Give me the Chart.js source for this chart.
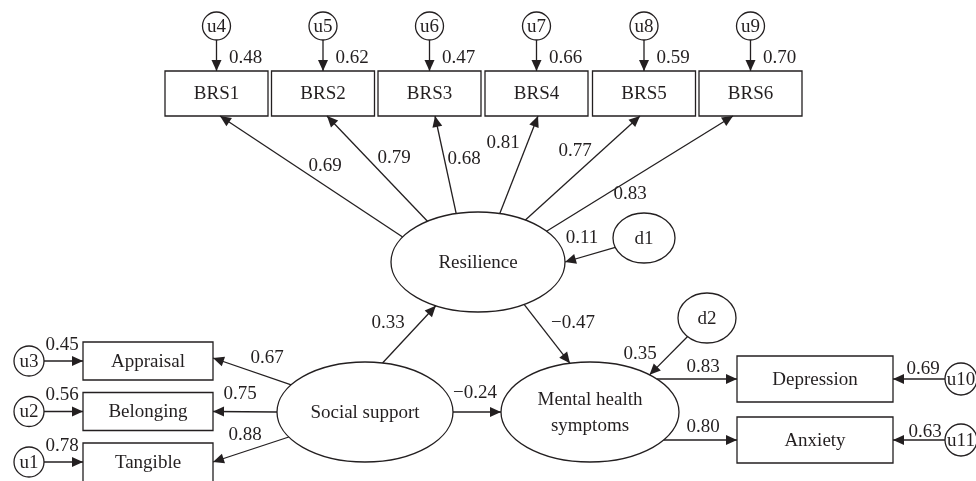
<!DOCTYPE html>
<html>
<head>
<meta charset="utf-8">
<title>Path model</title>
<script src="https://cdn.jsdelivr.net/npm/chart.js@4.4.0/dist/chart.umd.min.js"></script>
<style>
  html, body { margin: 0; padding: 0; background: #fff; }
  #wrap { width: 976px; height: 481px; }
</style>
</head>
<body>
<div id="wrap"><canvas id="c" width="976" height="481"></canvas></div>
<script>
// === Model values ===
const brsItems = ['BRS1', 'BRS2', 'BRS3', 'BRS4', 'BRS5', 'BRS6'];
const brsLoadings = [0.69, 0.79, 0.68, 0.81, 0.77, 0.83];
const brsErrors = ['u4', 'u5', 'u6', 'u7', 'u8', 'u9'];
const brsErrorVar = [0.48, 0.62, 0.47, 0.66, 0.59, 0.70];

const supportItems = ['Appraisal', 'Belonging', 'Tangible'];
const supportLoadings = [0.67, 0.75, 0.88];
const supportErrors = ['u3', 'u2', 'u1'];
const supportErrorVar = [0.45, 0.56, 0.78];

const mentalItems = ['Depression', 'Anxiety'];
const mentalLoadings = [0.83, 0.80];
const mentalErrors = ['u10', 'u11'];
const mentalErrorVar = [0.69, 0.63];

const latents = ['Resilience', 'Social support', 'Mental health symptoms'];
const pathFrom = ['Social support', 'Resilience', 'Social support'];
const pathTo = ['Resilience', 'Mental health symptoms', 'Mental health symptoms'];
const pathCoef = [0.33, -0.47, -0.24];

const disturbances = ['d1', 'd2'];
const disturbanceTo = ['Resilience', 'Mental health symptoms'];
const disturbanceVar = [0.11, 0.35];

// === Layout (diagram units, same as the 976x481 frame) ===
const ink = '#231f20';
const font = '19px "Liberation Serif", "DejaVu Serif", serif';

const brsBoxX = [216.5, 323, 429.5, 536.5, 644, 750.5];
const brsStartDeg = [210, 234.5, 255.5, 284.5, 303, 322];
const brsTipDx = [3.5, 4, 5.5, 1.5, -4, -17.5];
const brsLabelPos = [[325, 165], [394, 157], [464, 158], [503, 142], [575, 150], [630, 193]];

const supportBoxY = [361, 411.5, 462];
const supportBoxH = [38, 38, 42];
const supportStartDeg = [213, 180, 150];
const supportTipDy = [-3, 0, 0];
const supportLabelPos = [[267, 357], [240, 393], [245, 434]];

const mentalBoxY = [379, 440];
const mentalLabelPos = [[703, 366], [703, 426]];
const mentalErrLabelPos = [[923, 368], [925, 431]];

const latentGeom = [[478, 262, 87, 50], [365, 412, 88, 50], [590, 412, 89, 50]];
const latentLines = [['Resilience'], ['Social support'], ['Mental health', 'symptoms']];
const pathPorts = [[281.5, 119], [58, 257], [0, 180]];
const pathLabelPos = [[388, 322], [573, 322], [475, 392]];

const distGeom = [[644, 238, 31, 25], [707, 318, 29, 25]];
const distPorts = [[158, 0], [132, 312]];
const distLabelPos = [[582, 237], [640, 353]];

// === Nodes ===
const nodes = {};
brsItems.forEach((n, i) => nodes[n] = { kind: 'box', x: brsBoxX[i], y: 93.5, w: 103, h: 45, lines: [n] });
brsErrors.forEach((n, i) => nodes[n] = { kind: 'ell', x: brsBoxX[i], y: 26, rx: 14, ry: 14, lines: [n] });
supportItems.forEach((n, i) => nodes[n] = { kind: 'box', x: 148, y: supportBoxY[i] + (supportBoxH[i] - 38) / 2, w: 130, h: supportBoxH[i], lines: [n], ty: supportBoxY[i] });
supportErrors.forEach((n, i) => nodes[n] = { kind: 'ell', x: 29, y: supportBoxY[i], rx: 15, ry: 15, lines: [n] });
mentalItems.forEach((n, i) => nodes[n] = { kind: 'box', x: 815, y: mentalBoxY[i], w: 156, h: 46, lines: [n] });
mentalErrors.forEach((n, i) => nodes[n] = { kind: 'ell', x: 961, y: mentalBoxY[i], rx: 16, ry: 16, lines: [n] });
latents.forEach((n, i) => {
  const g = latentGeom[i];
  nodes[n] = { kind: 'ell', x: g[0], y: g[1], rx: g[2], ry: g[3], lines: latentLines[i] };
});
disturbances.forEach((n, i) => {
  const g = distGeom[i];
  nodes[n] = { kind: 'ell', x: g[0], y: g[1], rx: g[2], ry: g[3], lines: [n] };
});

function ellPt(n, deg) {
  const a = deg * Math.PI / 180;
  return [n.x + n.rx * Math.cos(a), n.y + n.ry * Math.sin(a)];
}
function sidePt(n, side, off = 0) {
  const my = n.ty !== undefined ? n.ty : n.y;
  if (side === 'top') return [n.x + off, n.y - n.h / 2];
  if (side === 'bottom') return [n.x + off, n.y + n.h / 2];
  if (side === 'left') return [n.x - n.w / 2, my + off];
  return [n.x + n.w / 2, my + off];
}
function ellAtY(n, y) {
  const s = (y - n.y) / n.ry;
  return [n.x + n.rx * Math.sqrt(1 - s * s), y];
}
function fmt(v) {
  return v.toFixed(2).replace('-', '\u2212');
}

// === Edges ===
const edges = [];
brsItems.forEach((b, i) => {
  const u = nodes[brsErrors[i]], box = nodes[b];
  edges.push({ pts: [ellPt(u, 90), sidePt(box, 'top')], text: fmt(brsErrorVar[i]), at: [box.x + 29, 57] });
  edges.push({ pts: [ellPt(nodes['Resilience'], brsStartDeg[i]), sidePt(box, 'bottom', brsTipDx[i])],
               text: fmt(brsLoadings[i]), at: brsLabelPos[i] });
});
supportItems.forEach((s, i) => {
  const u = nodes[supportErrors[i]], box = nodes[s];
  edges.push({ pts: [ellPt(u, 0), sidePt(box, 'left')], text: fmt(supportErrorVar[i]), at: [62, supportBoxY[i] - 17] });
  edges.push({ pts: [ellPt(nodes['Social support'], supportStartDeg[i]), sidePt(box, 'right', supportTipDy[i])],
               text: fmt(supportLoadings[i]), at: supportLabelPos[i] });
});
mentalItems.forEach((m, i) => {
  const u = nodes[mentalErrors[i]], box = nodes[m];
  edges.push({ pts: [ellPt(u, 180), sidePt(box, 'right')], text: fmt(mentalErrorVar[i]), at: mentalErrLabelPos[i] });
  edges.push({ pts: [ellAtY(nodes['Mental health symptoms'], box.y), sidePt(box, 'left')],
               text: fmt(mentalLoadings[i]), at: mentalLabelPos[i] });
});
pathFrom.forEach((f, i) => {
  edges.push({ pts: [ellPt(nodes[f], pathPorts[i][0]), ellPt(nodes[pathTo[i]], pathPorts[i][1])],
               text: fmt(pathCoef[i]), at: pathLabelPos[i] });
});
disturbances.forEach((d, i) => {
  edges.push({ pts: [ellPt(nodes[d], distPorts[i][0]), ellPt(nodes[disturbanceTo[i]], distPorts[i][1])],
               text: fmt(disturbanceVar[i]), at: distLabelPos[i] });
});

// === Drawing plugin: nodes, arrowheads, labels ===
const diagramPlugin = {
  id: 'diagram',
  afterDatasetsDraw(chart) {
    const ctx = chart.ctx;
    const sx = chart.scales.x, sy = chart.scales.y;
    const X = v => sx.getPixelForValue(v);
    const Y = v => sy.getPixelForValue(v);
    ctx.save();
    ctx.strokeStyle = ink;
    ctx.fillStyle = ink;
    ctx.lineWidth = 1.3;

    // arrowheads
    edges.forEach(e => {
      const [p, q] = e.pts;
      const x1 = X(p[0]), y1 = Y(p[1]), x2 = X(q[0]), y2 = Y(q[1]);
      const a = Math.atan2(y2 - y1, x2 - x1);
      const L = 11, W = 5;
      ctx.beginPath();
      ctx.moveTo(x2, y2);
      ctx.lineTo(x2 - L * Math.cos(a) + W * Math.sin(a), y2 - L * Math.sin(a) - W * Math.cos(a));
      ctx.lineTo(x2 - L * Math.cos(a) - W * Math.sin(a), y2 - L * Math.sin(a) + W * Math.cos(a));
      ctx.closePath();
      ctx.fill();
    });

    // nodes
    ctx.font = font;
    ctx.textAlign = 'center';
    ctx.textBaseline = 'middle';
    Object.values(nodes).forEach(n => {
      const cx = X(n.x), cy = Y(n.y);
      ctx.beginPath();
      if (n.kind === 'box') {
        const w = X(n.x + n.w / 2) - X(n.x - n.w / 2);
        const h = Y(n.y + n.h / 2) - Y(n.y - n.h / 2);
        ctx.rect(cx - w / 2, cy - h / 2, w, h);
      } else {
        const rx = X(n.x + n.rx) - cx, ry = Y(n.y + n.ry) - cy;
        ctx.ellipse(cx, cy, rx, ry, 0, 0, Math.PI * 2);
      }
      ctx.stroke();
      const ty = n.ty !== undefined ? Y(n.ty) : cy;
      const gap = 26;
      n.lines.forEach((t, k) => {
        ctx.fillText(t, cx, ty + (k - (n.lines.length - 1) / 2) * gap + 1);
      });
    });

    // coefficient labels
    edges.forEach(e => {
      ctx.fillText(e.text, X(e.at[0]), Y(e.at[1]) + 1);
    });
    ctx.restore();
  }
};

new Chart(document.getElementById('c'), {
  type: 'scatter',
  data: {
    datasets: edges.map(e => ({
      data: e.pts.map(p => ({ x: p[0], y: p[1] })),
      showLine: true,
      borderColor: ink,
      borderWidth: 1.3,
      pointRadius: 0,
      fill: false
    }))
  },
  options: {
    responsive: false,
    animation: false,
    devicePixelRatio: 1,
    layout: { padding: 0 },
    scales: {
      x: { type: 'linear', min: 0, max: 976, display: false },
      y: { type: 'linear', min: 0, max: 481, reverse: true, display: false }
    },
    plugins: { legend: { display: false }, tooltip: { enabled: false } }
  },
  plugins: [diagramPlugin]
});
</script>
</body>
</html>
